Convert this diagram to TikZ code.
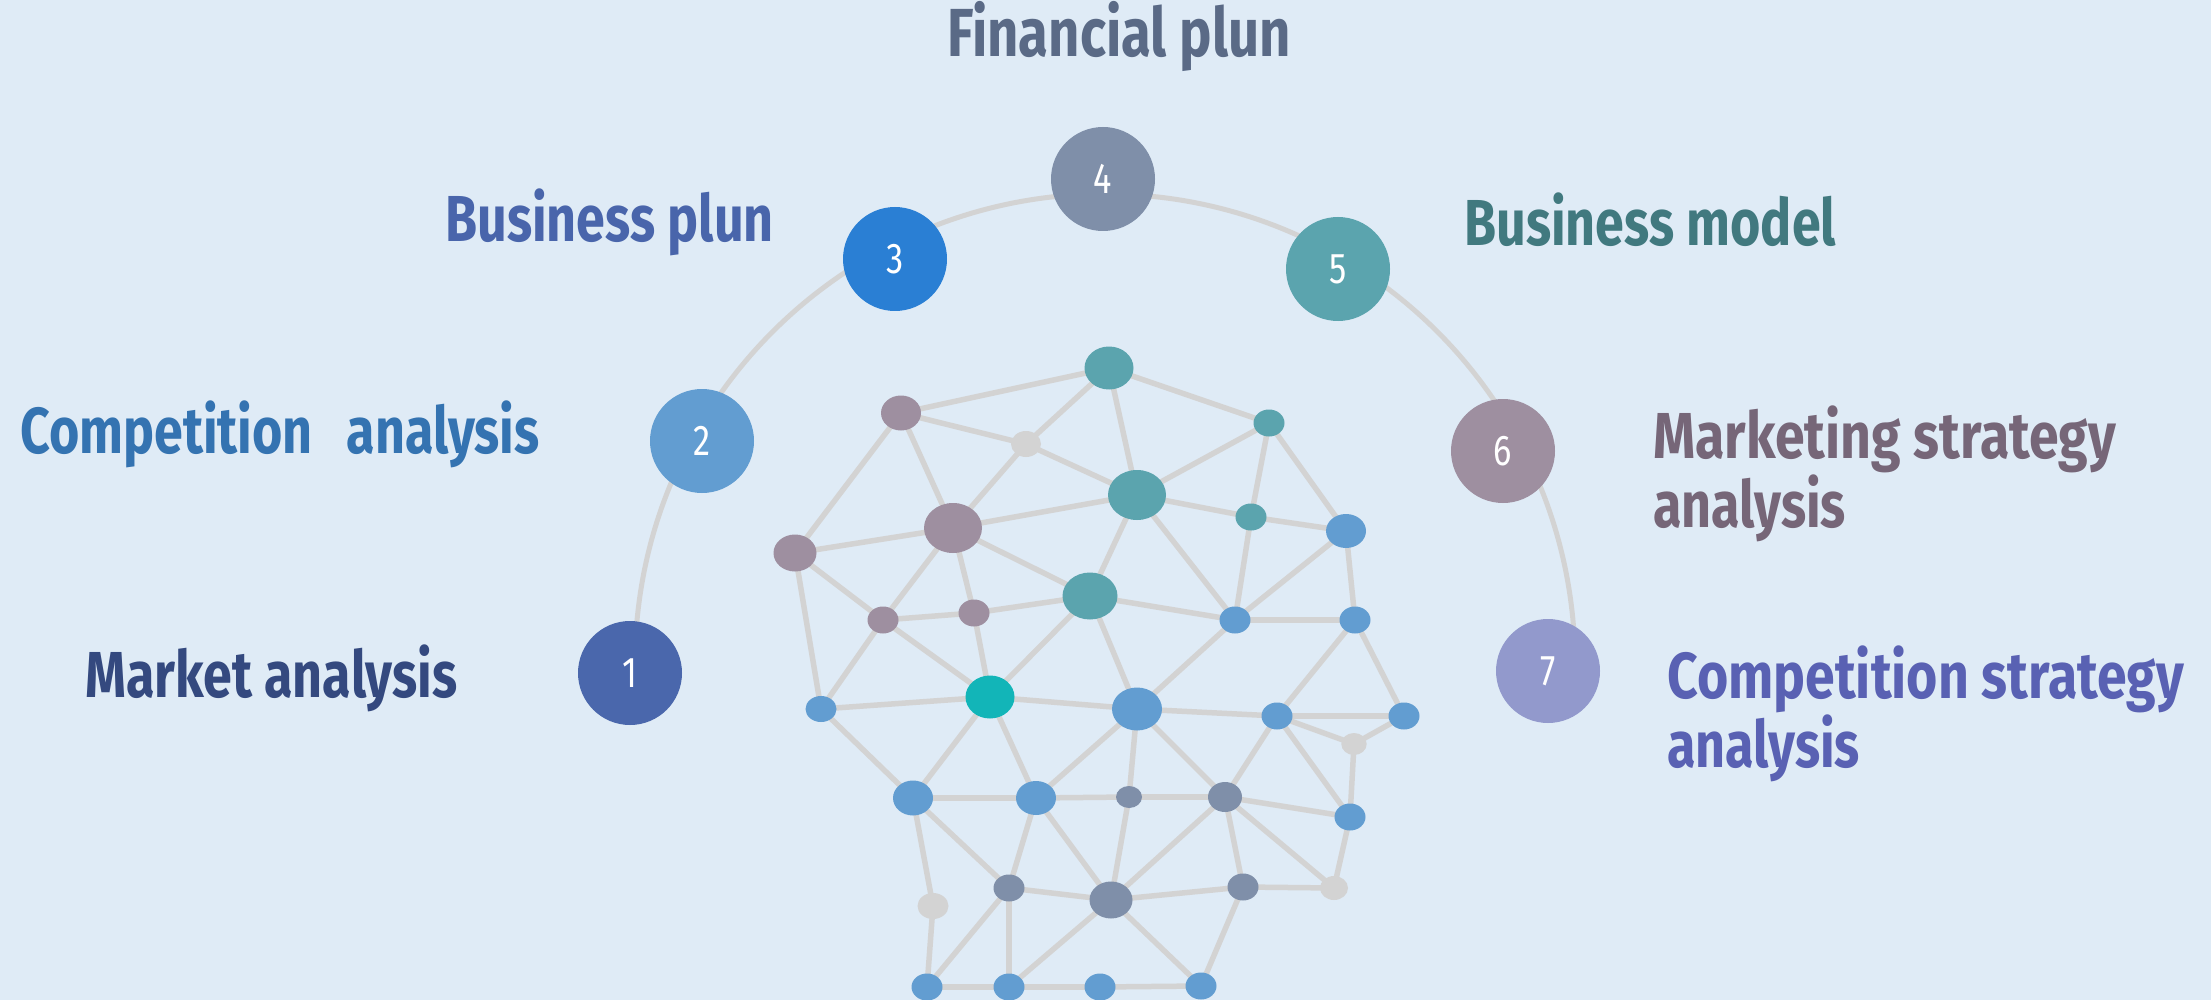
\documentclass[tikz,border=0pt]{standalone}
\usepackage{fontspec}
\setmainfont{Fira Sans}
\newfontfamily\lblfont{Fira Sans}[FakeStretch=0.8]
\newfontfamily\lblfontw{Fira Sans}[FakeStretch=0.825]
\usetikzlibrary{shapes.geometric}
\definecolor{bgc}{HTML}{DFEBF6}
\definecolor{edgec}{HTML}{D3D3D3}
\definecolor{cOne}{HTML}{4A67AC}
\definecolor{cTwo}{HTML}{629DD1}
\definecolor{cThree}{HTML}{2A7FD4}
\definecolor{cFour}{HTML}{7F8FA9}
\definecolor{cFive}{HTML}{5BA4AE}
\definecolor{cSix}{HTML}{9E8FA0}
\definecolor{cSeven}{HTML}{9299CC}
\definecolor{nteal}{HTML}{5BA4AE}
\definecolor{nmauve}{HTML}{9E8FA0}
\definecolor{ngray}{HTML}{D3D3D3}
\definecolor{nblue}{HTML}{629DD1}
\definecolor{nslate}{HTML}{7F8FA9}
\definecolor{nbright}{HTML}{12B5B8}
\definecolor{tFin}{HTML}{5A6A86}
\definecolor{tBp}{HTML}{4965AB}
\definecolor{tCa}{HTML}{3473B1}
\definecolor{tMa}{HTML}{34497F}
\definecolor{tBm}{HTML}{41797F}
\definecolor{tMs}{HTML}{766678}
\definecolor{tCs}{HTML}{5961B3}
\pgfdeclarelayer{bglayer}
\pgfdeclarelayer{edgelayer}
\pgfsetlayers{bglayer,edgelayer,main}
\tikzset{
  bignum/.style={circle, minimum size=104pt, inner sep=0pt, text=white,
    font=\lblfont\fontsize{43}{43}\selectfont},
  netnode/.style={ellipse, inner sep=0pt, draw=none},
  netedge/.style={draw=edgec, line width=5.5pt},
  arcline/.style={draw=edgec, line width=5pt},
  lbl/.style={inner sep=0pt, font=\lblfont\bfseries\fontsize{65}{69}\selectfont},
  lblw/.style={inner sep=0pt, font=\lblfontw\bfseries\fontsize{65}{69}\selectfont}
}
\newcommand{\nn}[6]{\node[netnode, fill=#6, minimum width=#4*2pt, minimum height=#5*2pt] (#1) at (#2,#3) {};}
\begin{document}
\begin{tikzpicture}[x=1pt,y=-1pt]
\begin{pgfonlayer}{bglayer}
\fill[bgc] (0,0) rectangle (2211,1000);
\end{pgfonlayer}
\useasboundingbox (0,0) rectangle (2211,1000);
% arc
\coordinate (arcC) at (1105,664);
\draw[arcline] (arcC) ++(183:470) arc[start angle=183, end angle=357, radius=470];
% big circles
\node[bignum, fill=cOne] (c1) at (630,673) {1};
\node[bignum, fill=cTwo] (c2) at (702,441) {2};
\node[bignum, fill=cThree] (c3) at (895,259) {3};
\node[bignum, fill=cFour] (c4) at (1103,179) {4};
\node[bignum, fill=cFive] (c5) at (1338,269) {5};
\node[bignum, fill=cSix] (c6) at (1503,451) {6};
\node[bignum, fill=cSeven] (c7) at (1548,671) {7};
% labels
\node[lbl, text=tFin, anchor=base, font=\lblfont\bfseries\fontsize{68}{70}\selectfont] (t4) at (1119,57) {Financial plun};
\node[lbl, text=tBp, anchor=base west] (t3) at (445,242) {Business plun};
\node[lbl, text=tCa, anchor=base west] (t2) at (20,453) {Competition\hspace{34pt}analysis};
\node[lbl, text=tMa, anchor=base west] (t1) at (85,697) {Market analysis};
\node[lbl, text=tBm, anchor=base west] (t5) at (1464,246) {Business model};
\node[lblw, text=tMs, anchor=base west] (t6a) at (1653,458) {Marketing strategy};
\node[lbl, text=tMs, anchor=base west] (t6b) at (1653,527) {analysis};
\node[lblw, text=tCs, anchor=base west] (t7a) at (1667,698) {Competition strategy};
\node[lbl, text=tCs, anchor=base west] (t7b) at (1667,767) {analysis};
% network nodes
\nn{nA}{1109}{368}{24.5}{21.5}{nteal}
\nn{nB}{901}{413}{20}{17.5}{nmauve}
\nn{nC}{1026}{444}{15}{13}{ngray}
\nn{nD}{1269}{423}{15.5}{13.5}{nteal}
\nn{nE}{1137}{495}{29}{25}{nteal}
\nn{nF}{953}{528}{29}{25}{nmauve}
\nn{nG}{795}{553}{21.5}{18.5}{nmauve}
\nn{nH}{1251}{517}{15.5}{13.5}{nteal}
\nn{nI}{1346}{531}{20}{17}{nblue}
\nn{nJ}{1090}{596}{27.5}{23.5}{nteal}
\nn{nK}{883}{620}{15.5}{13.5}{nmauve}
\nn{nL}{974}{613}{15.5}{13.5}{nmauve}
\nn{nM}{1235}{620}{15.5}{13.5}{nblue}
\nn{nN}{1355}{620}{15.5}{13.5}{nblue}
\nn{nP}{821}{709}{15.5}{13}{nblue}
\nn{nQ}{990}{697}{24.5}{21.5}{nbright}
\nn{nR}{1137}{709}{25}{21.5}{nblue}
\nn{nS}{1277}{716}{15.5}{13.5}{nblue}
\nn{nT}{1404}{716}{15.5}{13.5}{nblue}
\nn{nU}{1354}{744}{12.7}{11}{ngray}
\nn{nV}{913}{798}{20}{17.5}{nblue}
\nn{nW}{1036}{798}{20}{17}{nblue}
\nn{nX}{1129}{797}{13}{11}{nslate}
\nn{nY}{1225}{797}{17}{15}{nslate}
\nn{nZ}{1350}{817}{15.5}{13.5}{nblue}
\nn{na}{933}{906}{15.5}{13}{ngray}
\nn{nb}{1009}{888}{15.5}{13.5}{nslate}
\nn{nc}{1111}{900}{21.5}{18.5}{nslate}
\nn{nd}{1243}{887}{15.5}{13.5}{nslate}
\nn{ne}{1334}{888}{14}{12}{ngray}
\nn{nf}{927}{987}{15.5}{13.5}{nblue}
\nn{ng}{1009}{987}{15.5}{13.5}{nblue}
\nn{nh}{1100}{987}{15.5}{13.5}{nblue}
\nn{ni}{1201}{986}{15.5}{13.5}{nblue}
\begin{pgfonlayer}{edgelayer}
\foreach \u/\v in {nA/nB,nA/nC,nA/nE,nA/nD,nB/nC,nB/nF,nB/nG,nC/nE,nC/nF,
  nD/nE,nD/nH,nD/nI,nE/nF,nE/nH,nE/nJ,nE/nM,nF/nG,nF/nJ,nF/nK,nF/nL,
  nG/nK,nG/nP,nH/nI,nH/nM,nI/nM,nI/nN,nK/nL,nK/nP,nK/nQ,nL/nJ,nL/nQ,
  nJ/nM,nJ/nQ,nJ/nR,nM/nN,nM/nR,nN/nS,nN/nT,nP/nQ,nP/nV,nQ/nR,nQ/nV,nQ/nW,
  nR/nS,nR/nW,nR/nX,nR/nY,nS/nT,nS/nU,nS/nZ,nS/nY,nT/nU,nU/nZ,
  nV/nW,nV/nb,nV/na,nW/nX,nW/nb,nW/nc,nX/nY,nX/nc,nY/nd,nY/nc,nY/ne,nY/nZ,
  nZ/ne,na/nf,nb/nc,nb/nf,nb/ng,nc/nd,nc/ng,nc/ni,nd/ne,nd/ni,nf/ng,ng/nh,nh/ni}
  {\draw[netedge] (\u.center) -- (\v.center);}
\end{pgfonlayer}
\end{tikzpicture}
\end{document}
